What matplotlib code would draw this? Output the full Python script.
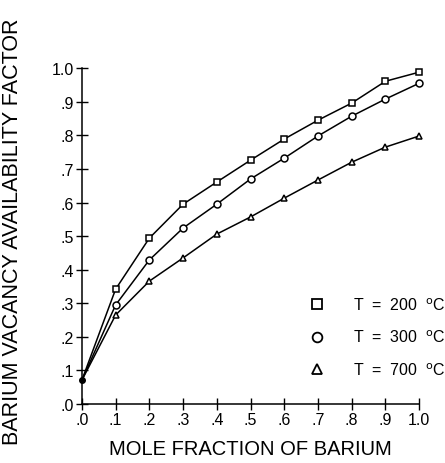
import numpy as np
import matplotlib.pyplot as plt

plt.rcParams['font.family'] = ['Liberation Sans', 'DejaVu Sans']

# Mole fraction of barium
x = [0.0, 0.1, 0.2, 0.3, 0.4, 0.5, 0.6, 0.7, 0.8, 0.9, 1.0]

# Barium vacancy availability factor at each temperature
t200 = [0.071, 0.342, 0.494, 0.595, 0.661, 0.726, 0.789, 0.845, 0.896, 0.961, 0.988]
t300 = [0.071, 0.295, 0.429, 0.524, 0.595, 0.670, 0.732, 0.798, 0.857, 0.908, 0.955]
t700 = [0.071, 0.265, 0.366, 0.435, 0.506, 0.557, 0.613, 0.667, 0.720, 0.765, 0.798]

labels = ['T  =  200  $^{\\mathrm{o}}$C', 'T  =  300  $^{\\mathrm{o}}$C', 'T  =  700  $^{\\mathrm{o}}$C']
ticks = np.arange(0, 11) / 10
ticklabels = ['.0', '.1', '.2', '.3', '.4', '.5', '.6', '.7', '.8', '.9', '1.0']

fig = plt.figure(figsize=(4.45, 4.64), dpi=100)
ax = fig.add_axes([0.184, 0.127, 0.758, 0.724])

series = [(t200, 's'), (t300, 'o'), (t700, '^')]
handles = []
for ys, m in series:
    ax.plot(x, ys, color='black', lw=1.1, clip_on=False, zorder=2)
    ax.plot(x[1:], ys[1:], ls='none', marker=m, ms=5, mfc='white', mec='black',
            mew=1.1, clip_on=False, zorder=3)
    h, = ax.plot([], [], ls='none', marker=m, ms=7, mfc='white', mec='black', mew=1.3)
    handles.append(h)
ax.plot(0, t200[0], 'o', color='black', ms=4, clip_on=False, zorder=4)

ax.set_xlim(0, 1)
ax.set_ylim(0, 1)
ax.set_xticks(ticks)
ax.set_xticklabels(ticklabels)
ax.set_yticks(ticks)
ax.set_yticklabels(ticklabels)
ax.tick_params(direction='inout', length=8, width=1, labelsize=11.5, pad=2)
for s in ['top', 'right']:
    ax.spines[s].set_visible(False)
for s in ['left', 'bottom']:
    ax.spines[s].set_linewidth(1.1)

ax.set_xlabel('MOLE FRACTION OF BARIUM', fontsize=14.5, labelpad=8)
ax.set_ylabel('BARIUM VACANCY AVAILABILITY FACTOR', fontsize=15.5)
ax.yaxis.set_label_coords(-0.175, 0.515)

ax.legend(handles, labels, loc='lower right', bbox_to_anchor=(1.12, 0.035),
          frameon=False, fontsize=11.5, handletextpad=1.7, labelspacing=1.0,
          handlelength=1.0)

fig.savefig('out.png', dpi=100)
